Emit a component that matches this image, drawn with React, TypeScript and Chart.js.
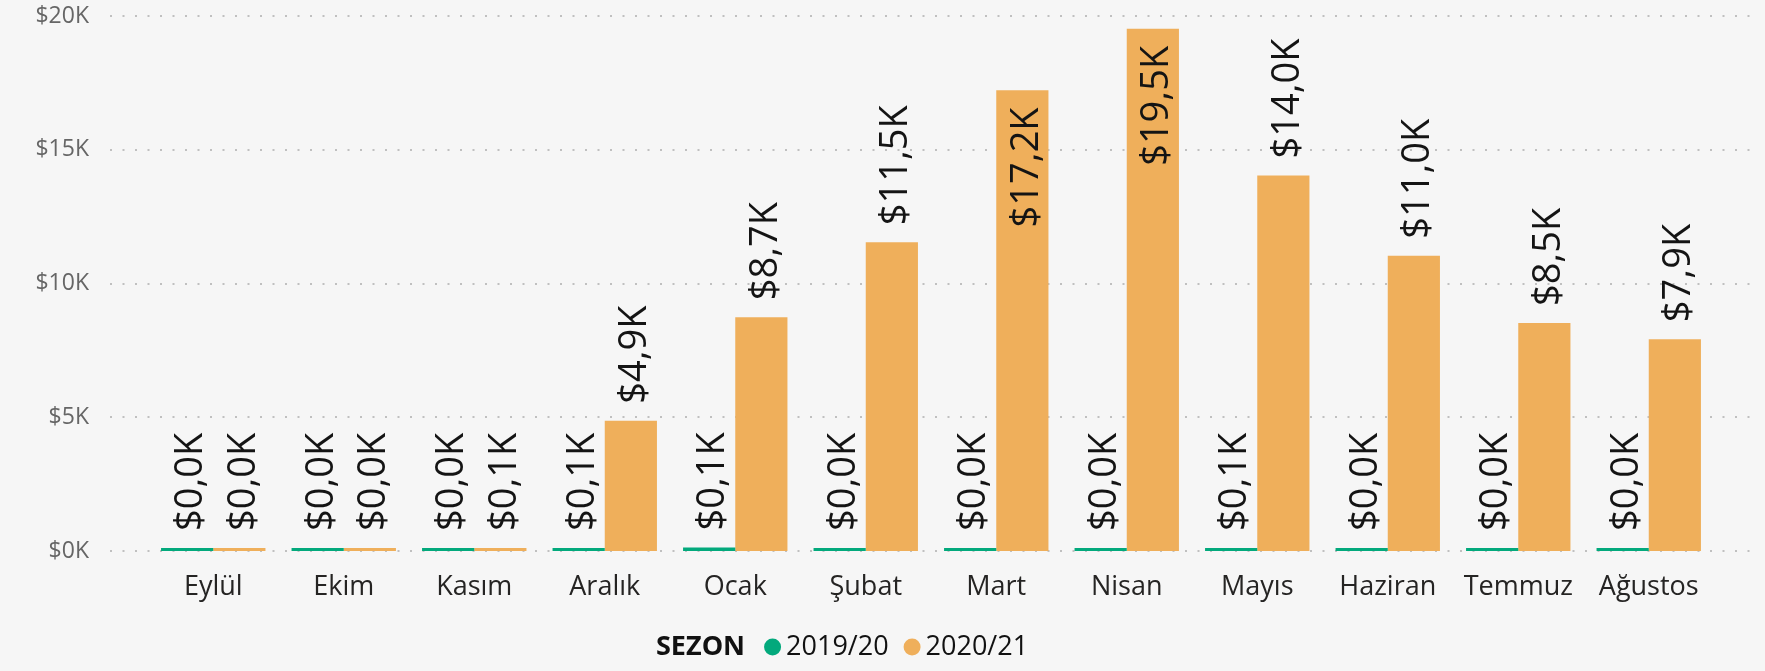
import React, { useEffect, useRef } from 'react';
import { Chart, registerables } from 'chart.js';

Chart.register(...registerables);

// ---- data ----
const months = ['Eylül', 'Ekim', 'Kasım', 'Aralık', 'Ocak', 'Şubat', 'Mart', 'Nisan', 'Mayıs', 'Haziran', 'Temmuz', 'Ağustos'];
const season1920 = [0.02, 0.01, 0.03, 0.06, 0.13, 0.04, 0.02, 0.03, 0.07, 0.02, 0.01, 0.02];
const season2021 = [0.02, 0.03, 0.09, 4.87, 8.74, 11.54, 17.22, 19.52, 14.04, 11.04, 8.52, 7.92];
const seriesNames = ['2019/20', '2020/21'];
const legendTitle = 'SEZON';
const yTickValues = [0, 5, 10, 15, 20];

// ---- styles ----
const FAMILY = "'Segoe UI', 'Open Sans', 'Noto Sans', sans-serif";
const BG = '#f6f6f6';
const GREEN = '#03a97c';
const ORANGE = '#efaf5b';
const COLORS = [GREEN, ORANGE];
const W = 1765;
const H = 671;

const fmtLabel = (v: number) => '$' + v.toFixed(1).replace('.', ',') + 'K';
const fmtTick = (v: number) => '$' + v + 'K';

const bgPlugin = {
  id: 'bgPlugin',
  beforeDraw(chart: any) {
    const ctx = chart.ctx;
    ctx.save();
    ctx.fillStyle = BG;
    ctx.fillRect(0, 0, chart.width, chart.height);
    ctx.restore();
  },
};

const gridPlugin = {
  id: 'gridPlugin',
  beforeDatasetsDraw(chart: any) {
    const ctx = chart.ctx;
    const y = chart.scales.y;
    ctx.save();
    ctx.strokeStyle = 'rgba(0,0,0,0.22)';
    ctx.lineWidth = 2;
    ctx.setLineDash([2, 10.5]);
    yTickValues.forEach((v) => {
      const py = Math.round(y.getPixelForValue(v));
      ctx.beginPath();
      ctx.moveTo(110, py);
      ctx.lineTo(1756, py);
      ctx.stroke();
    });
    ctx.restore();
  },
};

const GAP_OUT = 17;
const GAP_IN = 17;

const labelPlugin = {
  id: 'labelPlugin',
  afterDatasetsDraw(chart: any) {
    const ctx = chart.ctx;
    ctx.save();
    ctx.font = `38px ${FAMILY}`;
    ctx.fillStyle = '#141414';
    ctx.textBaseline = 'middle';
    ctx.textAlign = 'left';
    chart.data.datasets.forEach((ds: any, di: number) => {
      const meta = chart.getDatasetMeta(di);
      meta.data.forEach((bar: any, i: number) => {
        const v = ds.data[i] as number;
        const txt = fmtLabel(v);
        const w = ctx.measureText(txt).width;
        const top = bar.y;
        let start: number;
        if (top - GAP_OUT - w < 2) start = top + GAP_IN + w;
        else start = top - GAP_OUT;
        ctx.save();
        ctx.translate(bar.x, start);
        ctx.rotate(-Math.PI / 2);
        ctx.fillText(txt, 0, 4.5);
        ctx.restore();
      });
    });
    ctx.restore();
  },
};

const legendPlugin = {
  id: 'legendPlugin',
  afterDraw(chart: any) {
    const ctx = chart.ctx;
    const cy = 647;
    ctx.save();
    ctx.textBaseline = 'middle';
    ctx.textAlign = 'left';
    let x = 656;
    ctx.font = `bold 27px ${FAMILY}`;
    ctx.fillStyle = '#111';
    ctx.fillText(legendTitle, x, cy);
    x += ctx.measureText(legendTitle).width + 19;
    ctx.font = `27px ${FAMILY}`;
    seriesNames.forEach((name, i) => {
      ctx.fillStyle = COLORS[i];
      ctx.beginPath();
      ctx.arc(x + 8.5, cy, 8.5, 0, Math.PI * 2);
      ctx.fill();
      x += 17 + 5;
      ctx.fillStyle = '#111';
      ctx.fillText(name, x, cy);
      x += ctx.measureText(name).width + 15;
    });
    ctx.restore();
  },
};

export default function App() {
  const ref = useRef<HTMLCanvasElement>(null);
  useEffect(() => {
    document.body.style.margin = '0';
    document.body.style.background = BG;
    const chart = new Chart(ref.current as HTMLCanvasElement, {
      type: 'bar',
      data: {
        labels: months,
        datasets: [
          {
            label: seriesNames[0],
            data: season1920,
            backgroundColor: GREEN,
            borderWidth: 0,
            minBarLength: 3,
            categoryPercentage: 0.8,
            barPercentage: 1,
          },
          {
            label: seriesNames[1],
            data: season2021,
            backgroundColor: ORANGE,
            borderWidth: 0,
            minBarLength: 3,
            categoryPercentage: 0.8,
            barPercentage: 1,
          },
        ],
      },
      options: {
        animation: false,
        responsive: false,
        devicePixelRatio: 1,
        layout: { padding: { left: 0, right: 51, top: 16, bottom: 0 } },
        plugins: {
          legend: { display: false },
          tooltip: { enabled: false },
        },
        scales: {
          x: {
            grid: { display: false, drawTicks: false },
            border: { display: false },
            ticks: {
              font: { family: FAMILY, size: 27 },
              color: '#252423',
              padding: 20,
              maxRotation: 0,
              autoSkip: false,
            },
            afterFit: (s: any) => {
              s.height = 120;
            },
          },
          y: {
            min: 0,
            max: 20,
            grid: { display: false, drawTicks: false },
            border: { display: false },
            ticks: {
              stepSize: 5,
              padding: 59,
              font: { family: FAMILY, size: 23 },
              color: '#666666',
              callback: (v: any) => fmtTick(Number(v)),
            },
            afterFit: (s: any) => {
              s.width = 148;
              s.paddingTop = 12;
              s.paddingBottom = 12;
            },
          },
        },
      },
      plugins: [bgPlugin, gridPlugin, labelPlugin, legendPlugin],
    } as any);
    return () => chart.destroy();
  }, []);
  return (
    <div style={{ width: W, height: H, background: BG }}>
      <canvas ref={ref} width={W} height={H} style={{ display: 'block', width: W, height: H }} />
    </div>
  );
}
